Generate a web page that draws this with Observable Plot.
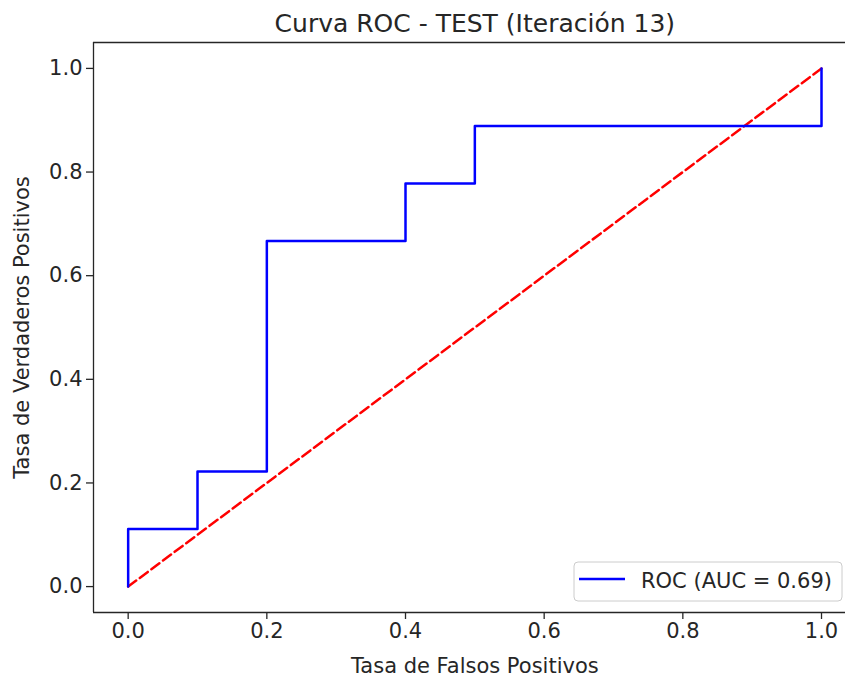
<!DOCTYPE html>
<html>
<head>
<meta charset="utf-8">
<script src="https://cdn.jsdelivr.net/npm/d3@7"></script>
<script src="https://cdn.jsdelivr.net/npm/@observablehq/plot@0.6"></script>
<style>
  body { margin: 0; background: #fff; }
  svg { display: block; }
</style>
</head>
<body>
<div id="chart"></div>
<script>
const fpr = [0.0, 0.0, 0.1, 0.1, 0.2, 0.2, 0.4, 0.4, 0.5, 0.5, 1.0, 1.0];
const tpr = [0.0, 0.111, 0.111, 0.222, 0.222, 0.667, 0.667, 0.778, 0.778, 0.889, 0.889, 1.0];
const diagX = [0, 1];
const diagY = [0, 1];
const xTicks = [0.0, 0.2, 0.4, 0.6, 0.8, 1.0];
const yTicks = [0.0, 0.2, 0.4, 0.6, 0.8, 1.0];
const titleText = "Curva ROC - TEST (Iteración 13)";
const xLabel = "Tasa de Falsos Positivos";
const yLabel = "Tasa de Verdaderos Positivos";
const legendLabel = "ROC (AUC = 0.69)";

const roc = fpr.map((x, i) => ({x, y: tpr[i]}));
const diag = diagX.map((x, i) => ({x, y: diagY[i]}));
const fmt = d3.format(".1f");
const ink = "#262626";

const plot = Plot.plot({
  width: 846,
  height: 677,
  marginLeft: 93,
  marginRight: 1,
  marginTop: 42,
  marginBottom: 65,
  style: {fontFamily: "DejaVu Sans", fontSize: "21px", color: ink, background: "#fff"},
  x: {domain: [-0.05, 1.0346]},
  y: {domain: [-0.05, 1.05]},
  marks: [
    Plot.line(diag, {x: "x", y: "y", stroke: "#ff0000", strokeWidth: 2.5, strokeDasharray: "10,4.5"}),
    Plot.line(roc, {x: "x", y: "y", stroke: "#0000ff", strokeWidth: 2.5}),
    Plot.ruleX([-0.05], {stroke: ink, strokeWidth: 1.3}),
    Plot.ruleY([-0.05, 1.05], {stroke: ink, strokeWidth: 1.3}),
    Plot.axisX({ticks: xTicks, tickFormat: fmt, tickSize: 7, tickPadding: 4, label: null, fontSize: 21, stroke: ink, strokeWidth: 1.3}),
    Plot.axisY({ticks: yTicks, tickFormat: fmt, tickSize: 7, tickPadding: 4, label: null, fontSize: 21, stroke: ink, strokeWidth: 1.3}),
    Plot.text([titleText], {x: 0.5, y: 1.05, text: d => d, dy: -19, fontSize: 25, fill: ink, lineAnchor: "middle"}),
    Plot.text([xLabel], {x: 0.5, y: -0.05, text: d => d, dy: 54, fontSize: 21, fill: ink, lineAnchor: "middle"}),
    Plot.text([yLabel], {x: -0.05, y: 0.5, text: d => d, dx: -71, rotate: -90, fontSize: 21, fill: ink, lineAnchor: "middle"})
  ]
});

// Legend (lower right)
const svg = d3.select(plot);
const g = svg.append("g").attr("text-anchor", "start");
g.append("rect").attr("x", 574).attr("y", 562).attr("width", 268).attr("height", 39)
  .attr("rx", 4).attr("fill", "#fff").attr("fill-opacity", 0.8).attr("stroke", "#cccccc");
g.append("line").attr("x1", 579).attr("x2", 625).attr("y1", 579).attr("y2", 579)
  .attr("stroke", "#0000ff").attr("stroke-width", 2.5);
g.append("text").attr("x", 641).attr("y", 588).attr("font-size", 21)
  .attr("text-anchor", "start").attr("fill", ink).text(legendLabel);

document.getElementById("chart").append(plot);
</script>
</body>
</html>
